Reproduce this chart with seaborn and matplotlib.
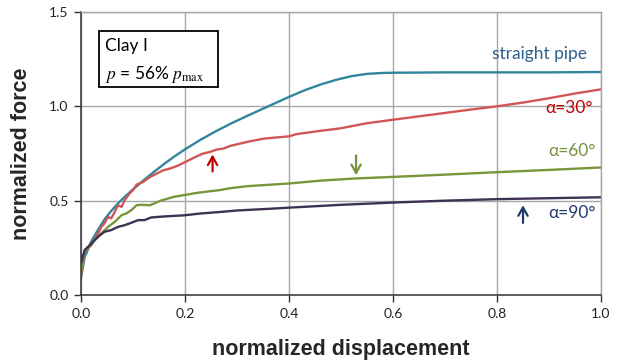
import numpy as np
import pandas as pd
import matplotlib
matplotlib.use("Agg")
import matplotlib.pyplot as plt
from matplotlib.patches import Rectangle
import seaborn as sns

# Force-displacement curves (normalized), Clay I, p = 56% p_max
disp_straight = [0.0, 0.007, 0.02, 0.033, 0.045, 0.058, 0.071, 0.084, 0.1, 0.12,
                 0.14, 0.16, 0.18, 0.2, 0.23, 0.26, 0.29, 0.32, 0.36, 0.4, 0.43,
                 0.46, 0.49, 0.52, 0.55, 0.58, 0.6, 0.7, 0.8, 0.9, 1.0]
force_straight = [0.09, 0.2, 0.285, 0.347, 0.4, 0.445, 0.485, 0.52, 0.56, 0.607,
                  0.652, 0.695, 0.735, 0.772, 0.823, 0.869, 0.911, 0.95, 1.0, 1.05,
                  1.085, 1.115, 1.14, 1.16, 1.172, 1.177, 1.178, 1.18, 1.18, 1.18,
                  1.182]

disp_a30 = [0.0, 0.007, 0.02, 0.033, 0.039, 0.045, 0.052, 0.058, 0.065, 0.071, 0.078,
            0.084, 0.094, 0.1, 0.107, 0.12, 0.133, 0.146, 0.158, 0.171, 0.184, 0.197,
            0.21, 0.2225, 0.235, 0.248, 0.261, 0.274, 0.2865, 0.3205, 0.352, 0.4,
            0.415, 0.46, 0.498, 0.549, 0.6, 0.65, 0.7, 0.75, 0.8, 0.85, 0.9, 0.95, 1.0]
force_a30 = [0.1, 0.229, 0.265, 0.326, 0.361, 0.379, 0.414, 0.406, 0.441, 0.476, 0.467,
             0.503, 0.54, 0.556, 0.585, 0.6, 0.626, 0.644, 0.661, 0.67, 0.683, 0.7,
             0.718, 0.735, 0.75, 0.758, 0.771, 0.776, 0.79, 0.812, 0.829, 0.841,
             0.853, 0.87, 0.883, 0.91, 0.929, 0.947, 0.965, 0.983, 1.0, 1.02, 1.043,
             1.068, 1.09]

disp_a60 = [0.0, 0.007, 0.026, 0.039, 0.052, 0.065, 0.078, 0.087, 0.097, 0.107, 0.115,
            0.133, 0.152, 0.178, 0.197, 0.2225, 0.248, 0.267, 0.2865, 0.3205, 0.36,
            0.4, 0.46, 0.523, 0.6, 0.7, 0.8, 0.9, 1.0]
force_a60 = [0.12, 0.229, 0.29, 0.326, 0.361, 0.388, 0.423, 0.432, 0.45, 0.476, 0.478,
             0.476, 0.499, 0.52, 0.529, 0.541, 0.55, 0.556, 0.566, 0.577, 0.584,
             0.591, 0.606, 0.617, 0.626, 0.638, 0.651, 0.663, 0.676]

disp_a90 = [0.0, 0.007, 0.02, 0.033, 0.045, 0.058, 0.071, 0.084, 0.097, 0.11, 0.122,
            0.135, 0.148, 0.17, 0.197, 0.23, 0.267, 0.3, 0.363, 0.4, 0.5, 0.6, 0.7,
            0.8, 0.9, 1.0]
force_a90 = [0.168, 0.238, 0.273, 0.309, 0.335, 0.344, 0.361, 0.37, 0.383, 0.397, 0.397,
             0.411, 0.414, 0.418, 0.422, 0.432, 0.44, 0.448, 0.457, 0.463, 0.478, 0.49,
             0.5, 0.508, 0.513, 0.518]

case_names = ["straight pipe", "α=30°", "α=60°", "α=90°"]
line_colors = ["#31859C", "#D05555", "#77963A", "#3F3151"]
label_colors = ["#2E5F8E", "#C00000", "#76923C", "#1F3A6E"]

x_ticks = [0.0, 0.2, 0.4, 0.6, 0.8, 1.0]
y_ticks = [0.0, 0.5, 1.0, 1.5]

frames = []
for name, xs, ys in zip(case_names,
                        [disp_straight, disp_a30, disp_a60, disp_a90],
                        [force_straight, force_a30, force_a60, force_a90]):
    frames.append(pd.DataFrame({"disp": xs, "force": ys, "case": name}))
df = pd.concat(frames, ignore_index=True)

sns.set_theme(style="white")
plt.rcParams["font.family"] = ["Lato", "Open Sans", "DejaVu Sans"]
plt.rcParams["mathtext.fontset"] = "stix"

fig = plt.figure(figsize=(6.19, 3.63), dpi=100)
ax = fig.add_axes([81 / 619, 1 - 295 / 363, 520 / 619, 283 / 363])

sns.lineplot(data=df, x="disp", y="force", hue="case", hue_order=case_names,
             palette=dict(zip(case_names, line_colors)), estimator=None, sort=False,
             linewidth=1.7, legend=False, ax=ax)

ax.set_xlim(0, 1.0)
ax.set_ylim(0, 1.5)
ax.set_xticks(x_ticks)
ax.set_yticks(y_ticks)
ax.set_xticklabels([f"{v:.1f}" for v in x_ticks], fontsize=10, color="#222222")
ax.set_yticklabels([f"{v:.1f}" for v in y_ticks], fontsize=10, color="#222222")
ax.tick_params(axis="both", direction="out", length=5, width=1, color="#333333",
               bottom=True, left=True, pad=4)

ax.grid(True, color="#A6A6A6", linewidth=1)
ax.set_axisbelow(True)
for side in ["top", "right"]:
    ax.spines[side].set_color("#A6A6A6")
    ax.spines[side].set_linewidth(1)
for side in ["left", "bottom"]:
    ax.spines[side].set_color("#333333")
    ax.spines[side].set_linewidth(1.1)

ax.set_xlabel("normalized displacement", fontsize=15.5, fontweight="bold",
              family="Liberation Sans", labelpad=14)
ax.set_ylabel("normalized force", fontsize=15.5, fontweight="bold",
              family="Liberation Sans", labelpad=12)

# curve labels
ax.text(0.973, 1.275, case_names[0], ha="right", va="center", fontsize=12.5,
        color=label_colors[0])
ax.text(0.985, 0.993, case_names[1], ha="right", va="center", fontsize=12.5,
        color=label_colors[1])
ax.text(0.99, 0.764, case_names[2], ha="right", va="center", fontsize=12.5,
        color=label_colors[2])
ax.text(0.99, 0.434, case_names[3], ha="right", va="center", fontsize=12.5,
        color=label_colors[3])

# arrows pointing at the curves
arrow_kw = dict(arrowstyle="->,head_length=0.5,head_width=0.28", lw=1.6,
                shrinkA=0, shrinkB=0)
ax.annotate("", xy=(0.253, 0.745), xytext=(0.253, 0.655),
            arrowprops=dict(color="#C00000", **arrow_kw))
ax.annotate("", xy=(0.529, 0.635), xytext=(0.529, 0.74),
            arrowprops=dict(color="#76923C", **arrow_kw))
ax.annotate("", xy=(0.85, 0.476), xytext=(0.85, 0.382),
            arrowprops=dict(color="#1F3A6E", **arrow_kw))

# info box
ax.add_patch(Rectangle((0.035, 1.10), 0.228, 0.30, facecolor="white",
                       edgecolor="black", linewidth=1.3, zorder=5))
ax.text(0.046, 1.32, "Clay I", ha="left", va="center", fontsize=12.5,
        color="black", zorder=6)
ax.text(0.046, 1.168, r"$p$ = 56% $p_{\mathrm{max}}$", ha="left", va="center",
        fontsize=12.5, color="black", zorder=6)

fig.savefig("out.png", dpi=100)
